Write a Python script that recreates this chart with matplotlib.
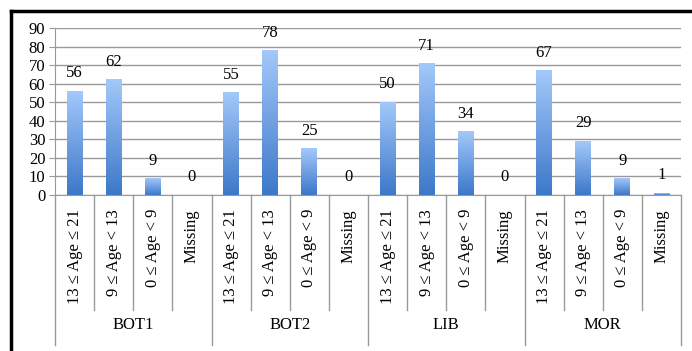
import matplotlib.pyplot as plt
import matplotlib.transforms as mtransforms
import numpy as np

groups = ['BOT1', 'BOT2', 'LIB', 'MOR']
ages = ['13 ≤ Age ≤ 21', '9 ≤ Age < 13', '0 ≤ Age < 9', 'Missing']
counts = [
    [56, 62, 9, 0],
    [55, 78, 25, 0],
    [50, 71, 34, 0],
    [67, 29, 9, 1],
]

plt.rcParams['font.family'] = ['Liberation Serif', 'DejaVu Serif']

fig = plt.figure(figsize=(6.92, 3.51), dpi=100)
ax = fig.add_axes([55 / 692, 1 - 195 / 351, 626 / 692, 167 / 351])

vals = np.array(counts).flatten()
labels = ages * len(groups)
x = np.arange(len(vals))

bars = ax.bar(x, vals, width=0.4, color='none', zorder=3)

# gradient fill, light on top, darker at the bottom
grad = np.linspace(0, 1, 100).reshape(-1, 1)
cmap = plt.matplotlib.colors.LinearSegmentedColormap.from_list('b', ['#3d78c9', '#a3c8fa'])
for b in bars:
    if b.get_height() <= 0:
        continue
    ax.imshow(grad, cmap=cmap, origin='lower', aspect='auto', zorder=3,
              extent=[b.get_x(), b.get_x() + b.get_width(), 0, b.get_height()])

for xi, v in zip(x, vals):
    ax.annotate(str(v), (xi, v), xytext=(0, 7), textcoords='offset points',
                ha='center', va='bottom', fontsize=12)

ax.set_xlim(-0.5, len(vals) - 0.5)
ax.set_ylim(0, 90)
ax.set_yticks(range(0, 91, 10))
ax.tick_params(axis='y', labelsize=12, length=4, color='#999999', pad=3)
ax.yaxis.grid(True, color='#999999', lw=1)
ax.set_axisbelow(True)

ax.set_xticks(x)
ax.set_xticklabels(labels, rotation=90, fontsize=12)
ax.tick_params(axis='x', length=0, pad=10)

for s in ['top', 'right']:
    ax.spines[s].set_visible(False)
for s in ['left', 'bottom']:
    ax.spines[s].set_color('#999999')

# separators under the axis
trans = mtransforms.blended_transform_factory(ax.transData, ax.transAxes)
for i in range(len(vals) + 1):
    xb = i - 0.5
    low = -0.90 if i % 4 == 0 else -0.69
    ax.plot([xb, xb], [0, low], transform=trans, color='#999999', lw=1, clip_on=False)

for gi, g in enumerate(groups):
    ax.text(gi * 4 + 1.5, -0.78, g, transform=trans, ha='center', va='center', fontsize=12)

# outer border (top and left)
fig.add_artist(plt.Line2D([11 / 692, 1], [1 - 11 / 351, 1 - 11 / 351], color='black', lw=2.5))
fig.add_artist(plt.Line2D([11 / 692, 11 / 692], [0, 1 - 11 / 351], color='black', lw=2.5))

fig.savefig('out.png', dpi=100)
